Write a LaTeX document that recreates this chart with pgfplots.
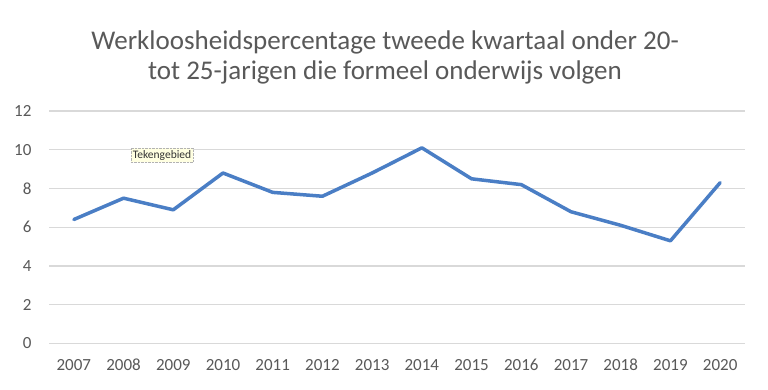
\documentclass[border=0pt]{standalone}
\usepackage{pgfplots}
\pgfplotsset{compat=1.18}
\usepackage{fontspec}
\setmainfont{Carlito}
\definecolor{linec}{RGB}{74,126,197}
\definecolor{txt}{RGB}{89,89,89}
\definecolor{gridc}{RGB}{217,217,217}
\begin{document}
\begin{tikzpicture}[x=1pt,y=1pt]
\path[use as bounding box,fill=white] (0,0) rectangle (768,389);
\begin{axis}[
  scale only axis,
  width=696pt, height=232.5pt,
  at={(49pt,45.5pt)}, anchor=south west,
  xmin=-0.5, xmax=13.5, ymin=0, ymax=12,
  xtick={0,...,13},
  xticklabels={2007,2008,2009,2010,2011,2012,2013,2014,2015,2016,2017,2018,2019,2020},
  ytick={0,2,...,12},
  ymajorgrids, major grid style={gridc, line width=1.2pt},
  axis line style={draw=none},
  major tick length=0pt,
  tick label style={font=\fontsize{17}{18}\selectfont, text=txt},
  /pgf/number format/assume math mode=true,
  yticklabel style={xshift=-14pt},
  xticklabel style={yshift=-12pt},
  clip=false,
]
\addplot[linec, line width=3.5pt, line join=round, line cap=round] coordinates {
(0,6.4) (1,7.5) (2,6.9) (3,8.8) (4,7.8) (5,7.6) (6,8.8) (7,10.1) (8,8.5) (9,8.2) (10,6.8) (11,6.1) (12,5.3) (13,8.3)};
\end{axis}
\node[font=\fontsize{27}{30}\selectfont, text=txt, align=center] at (385,332) {Werkloosheidspercentage tweede kwartaal onder 20-\\tot 25-jarigen die formeel onderwijs volgen};
\node[draw=gray!60, densely dotted, fill={rgb,255:red,255;green,255;blue,225}, font=\fontsize{11.5}{12}\selectfont, text=black!80, inner sep=2pt] at (162,234) {Tekengebied};
\end{tikzpicture}
\end{document}
